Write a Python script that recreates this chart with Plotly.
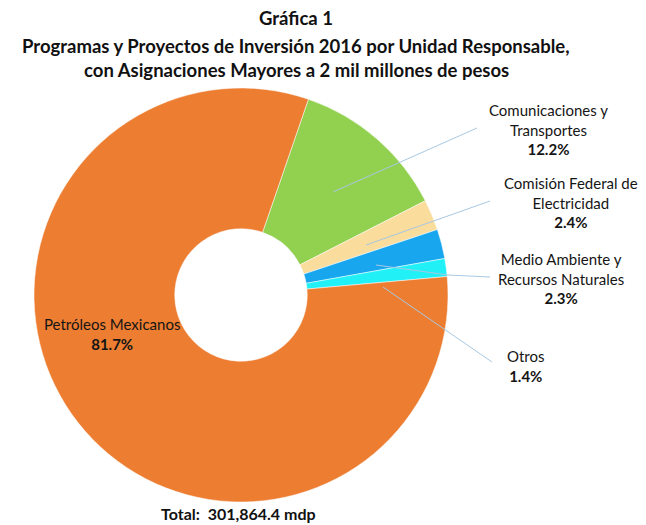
import plotly.graph_objects as go

W, H = 646, 525

categories = ["Comunicaciones y<br>Transportes", "Comisión Federal de<br>Electricidad",
              "Medio Ambiente y<br>Recursos Naturales", "Otros", "Petróleos Mexicanos"]
shares = [12.2, 2.4, 2.3, 1.4, 81.7]
colors = ["#92D050", "#FADC9C", "#18A6EE", "#22F0F7", "#ED7D31"]
title_lines = ["Gráfica 1",
               "Programas y Proyectos de Inversión 2016 por Unidad Responsable,",
               "con Asignaciones Mayores a 2 mil millones de pesos"]
total_text = "Total:  301,864.4 mdp"


def px(x, y):
    return x / W, 1 - y / H


fig = go.Figure()
fig.add_trace(go.Pie(
    labels=categories, values=shares, hole=0.32, sort=False, direction="clockwise",
    rotation=19, marker=dict(colors=colors, line=dict(color="white", width=0.5)),
    textinfo="none", hoverinfo="label+percent", showlegend=False,
    domain=dict(x=[34 / W, 448 / W], y=[1 - 502 / H, 1 - 88 / H]),
))

FONT = "Lato"
annotations = []
# title
for (line, yy) in zip(title_lines, [18, 46, 70]):
    x, y = px(296, yy)
    annotations.append(dict(x=x, y=y, xref="paper", yref="paper", text=f"<b>{line}</b>",
                            showarrow=False, font=dict(family=FONT, size=18.5, color="#111"),
                            xanchor="center", yanchor="middle"))

# labels
label_pos = [(548, 129), (571, 202), (561, 278), (526, 366), (112, 334)]
for cat, val, (lx, ly) in zip(categories, shares, label_pos):
    x, y = px(lx, ly)
    annotations.append(dict(x=x, y=y, xref="paper", yref="paper",
                            text=f"{cat}<br><b>{val:.1f}%</b>", showarrow=False,
                            font=dict(family=FONT, size=15, color="#151515"),
                            xanchor="center", yanchor="middle", align="center"))

x, y = px(238, 513)
annotations.append(dict(x=x, y=y, xref="paper", yref="paper", text=f"<b>{total_text}</b>",
                        showarrow=False, font=dict(family=FONT, size=16, color="#111"),
                        xanchor="center", yanchor="middle"))

# leader lines
leaders = [
    [(333, 192), (477, 128)],
    [(366, 245), (490, 201)],
    [(376, 265), (448, 275), (490, 277)],
    [(383, 287), (492, 362)],
]
shapes = []
for pts in leaders:
    for (x0, y0), (x1, y1) in zip(pts[:-1], pts[1:]):
        a, b = px(x0, y0)
        c, d = px(x1, y1)
        shapes.append(dict(type="line", xref="paper", yref="paper", x0=a, y0=b, x1=c, y1=d,
                           line=dict(color="#A8C8E2", width=1)))

fig.update_layout(width=W, height=H, margin=dict(l=0, r=0, t=0, b=0),
                  paper_bgcolor="white", plot_bgcolor="white",
                  annotations=annotations, shapes=shapes)
fig.write_html("out.html", config={"displayModeBar": False},
               post_script="document.body.style.margin='0';document.body.style.overflow='hidden';")
